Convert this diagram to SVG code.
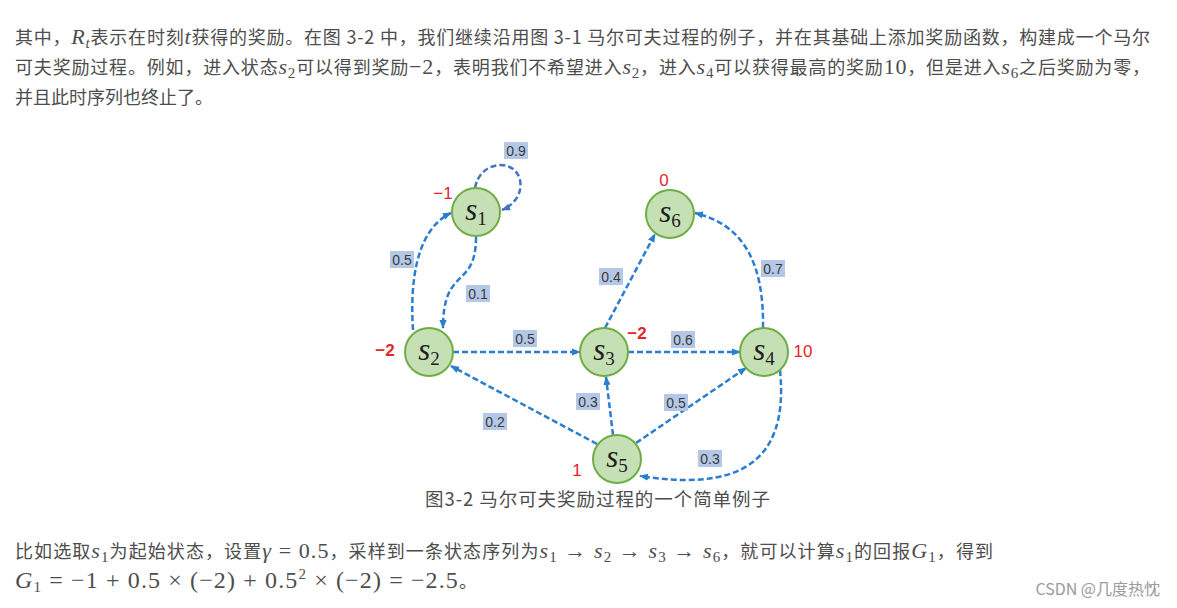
<svg xmlns="http://www.w3.org/2000/svg" width="1177" height="608" viewBox="0 0 1177 608">
<style>
.body{font-family:"Noto Sans CJK SC","Liberation Sans",sans-serif;font-size:18px;fill:#4d4d4d}
.m{font-family:"Liberation Serif",serif;font-style:italic;font-size:22px}
.n{font-family:"Liberation Serif",serif;font-style:normal;font-size:22px}
.sub{font-size:15px}
.big{font-size:24px}
.cap{font-family:"Noto Sans CJK SC","Liberation Sans",sans-serif;font-size:18.5px;fill:#4d4d4d}
.wm{font-family:"Noto Sans CJK SC","Liberation Sans",sans-serif;font-size:16px;fill:#9a9a9a}
.node circle{fill:#c5e0b4;stroke:#70ad47;stroke-width:2}
.node text{font-family:"Liberation Serif",serif;font-style:italic;font-size:31px;fill:#1e1e1e}
.rw{font-family:"Liberation Sans",sans-serif;font-size:17px;fill:#e3262c}
.rwb{font-weight:bold}
.edge{fill:none;stroke:#2a7dd1;stroke-width:2.5;stroke-dasharray:6 3;marker-end:url(#ah)}
.loop{stroke:#4472c4;marker-end:url(#ah2)}
.lb rect{fill:#b4c7e7}
.lb text{font-family:"Liberation Sans",sans-serif;font-size:14px;fill:#3a3a3a;text-anchor:middle}
</style>
<defs>
<marker id="ah" viewBox="0 0 10 10" refX="9" refY="5" markerWidth="9" markerHeight="9" markerUnits="userSpaceOnUse" orient="auto">
<path d="M0,1 L10,5 L0,9 z" fill="#2a7dd1"/>
</marker>
<marker id="ah2" viewBox="0 0 10 10" refX="9" refY="5" markerWidth="9" markerHeight="9" markerUnits="userSpaceOnUse" orient="auto">
<path d="M0,1 L10,5 L0,9 z" fill="#4472c4"/>
</marker>
</defs>
<rect width="1177" height="608" fill="#ffffff"/>

<text class="body" x="15" y="44" textLength="1135" lengthAdjust="spacing">其中，<tspan class="m">R</tspan><tspan class="m sub" dy="4">t</tspan><tspan dy="-4">表示在时刻</tspan><tspan class="m">t</tspan>获得的奖励。在图 3-2 中，我们继续沿用图 3-1 马尔可夫过程的例子，并在其基础上添加奖励函数，构建成一个马尔</text>
<text class="body" x="15" y="74" textLength="1135" lengthAdjust="spacing">可夫奖励过程。例如，进入状态<tspan class="m">s</tspan><tspan class="n sub" dy="4">2</tspan><tspan dy="-4">可以得到奖励</tspan><tspan class="n">−2</tspan>，表明我们不希望进入<tspan class="m">s</tspan><tspan class="n sub" dy="4">2</tspan><tspan dy="-4">，进入</tspan><tspan class="m">s</tspan><tspan class="n sub" dy="4">4</tspan><tspan dy="-4">可以获得最高的奖励</tspan><tspan class="n">10</tspan>，但是进入<tspan class="m">s</tspan><tspan class="n sub" dy="4">6</tspan><tspan dy="-4">之后奖励为零，</tspan></text>
<text class="body" x="15" y="104">并且此时序列也终止了。</text>

<g id="connectors">
<path class="edge loop" d="M475,188 C480,160 515,158 520,180 C523,195 512,206 502,210"/>
<path class="edge" d="M413,330 C410,285 415,230 451,213"/>
<path class="edge" d="M476,237 C476,290 443,265 443,328"/>
<path class="edge" d="M453,352 L580,352"/>
<path class="edge" d="M628,352 L740,352"/>
<path class="edge" d="M605,328 L655,234"/>
<path class="edge" d="M763,328 C764,265 745,225 695,213"/>
<path class="edge" d="M597,444 L451,366"/>
<path class="edge" d="M613,435 L606,377"/>
<path class="edge" d="M636,443 L746,368"/>
<path class="edge" d="M780,370 C790,470 730,490 640,476"/>
</g>

<g id="edge-labels">
<g class="lb"><rect x="504" y="142" width="24" height="17"/><text x="516" y="155.5">0.9</text></g>
<g class="lb"><rect x="390" y="251" width="24" height="17"/><text x="402" y="264.5">0.5</text></g>
<g class="lb"><rect x="466" y="285" width="24" height="17"/><text x="478" y="298.5">0.1</text></g>
<g class="lb"><rect x="513" y="330" width="24" height="17"/><text x="525" y="343.5">0.5</text></g>
<g class="lb"><rect x="599" y="268" width="24" height="17"/><text x="611" y="281.5">0.4</text></g>
<g class="lb"><rect x="761" y="260" width="24" height="17"/><text x="773" y="273.5">0.7</text></g>
<g class="lb"><rect x="671" y="331" width="24" height="17"/><text x="683" y="344.5">0.6</text></g>
<g class="lb"><rect x="576" y="393" width="24" height="17"/><text x="588" y="406.5">0.3</text></g>
<g class="lb"><rect x="664" y="394" width="24" height="17"/><text x="676" y="407.5">0.5</text></g>
<g class="lb"><rect x="483" y="413" width="24" height="17"/><text x="495" y="426.5">0.2</text></g>
<g class="lb"><rect x="698" y="450" width="24" height="17"/><text x="710" y="463.5">0.3</text></g>
</g>

<g id="s1" class="node"><circle cx="476" cy="212" r="24"/><text x="476" y="220" text-anchor="middle">s<tspan font-style="normal" font-size="19" dy="5">1</tspan></text></g>
<g id="s2" class="node"><circle cx="429" cy="352" r="24"/><text x="429" y="360" text-anchor="middle">s<tspan font-style="normal" font-size="19" dy="5">2</tspan></text></g>
<g id="s3" class="node"><circle cx="604" cy="352" r="24"/><text x="604" y="360" text-anchor="middle">s<tspan font-style="normal" font-size="19" dy="5">3</tspan></text></g>
<g id="s4" class="node"><circle cx="764" cy="352" r="24"/><text x="764" y="360" text-anchor="middle">s<tspan font-style="normal" font-size="19" dy="5">4</tspan></text></g>
<g id="s5" class="node"><circle cx="617" cy="459" r="24"/><text x="617" y="467" text-anchor="middle">s<tspan font-style="normal" font-size="19" dy="5">5</tspan></text></g>
<g id="s6" class="node"><circle cx="670" cy="214" r="24"/><text x="670" y="222" text-anchor="middle">s<tspan font-style="normal" font-size="19" dy="5">6</tspan></text></g>

<g id="rewards">
<text class="rw" x="443" y="199" text-anchor="middle">−1</text>
<text class="rw" x="664" y="186" text-anchor="middle">0</text>
<text class="rw rwb" x="637" y="339" text-anchor="middle">−2</text>
<text class="rw rwb" x="385" y="356" text-anchor="middle">−2</text>
<text class="rw" x="803" y="357" text-anchor="middle">10</text>
<text class="rw" x="577" y="476" text-anchor="middle">1</text>
</g>

<text class="cap" x="425" y="506" textLength="345" lengthAdjust="spacing">图3-2 马尔可夫奖励过程的一个简单例子</text>

<text class="body" x="15" y="558" textLength="978" lengthAdjust="spacing">比如选取<tspan class="m">s</tspan><tspan class="n sub" dy="4">1</tspan><tspan dy="-4">为起始状态，设置</tspan><tspan class="m">γ</tspan><tspan class="n"> = 0.5</tspan>，采样到一条状态序列为<tspan class="m">s</tspan><tspan class="n sub" dy="4">1</tspan><tspan class="n" dy="-4"> → </tspan><tspan class="m">s</tspan><tspan class="n sub" dy="4">2</tspan><tspan class="n" dy="-4"> → </tspan><tspan class="m">s</tspan><tspan class="n sub" dy="4">3</tspan><tspan class="n" dy="-4"> → </tspan><tspan class="m">s</tspan><tspan class="n sub" dy="4">6</tspan><tspan dy="-4">，就可以计算</tspan><tspan class="m">s</tspan><tspan class="n sub" dy="4">1</tspan><tspan dy="-4">的回报</tspan><tspan class="m">G</tspan><tspan class="n sub" dy="4">1</tspan><tspan dy="-4">，得到</tspan></text>
<text class="body" x="15" y="588" textLength="462" lengthAdjust="spacing"><tspan class="m big">G</tspan><tspan class="n sub" dy="4">1</tspan><tspan class="n big" dy="-4"> = −1 + 0.5 × (−2) + 0.5</tspan><tspan class="n sub" dy="-9">2</tspan><tspan class="n big" dy="9"> × (−2) = −2.5</tspan>。</text>

<text class="wm" x="1160" y="595" text-anchor="end">CSDN @几度热忱</text>
</svg>
